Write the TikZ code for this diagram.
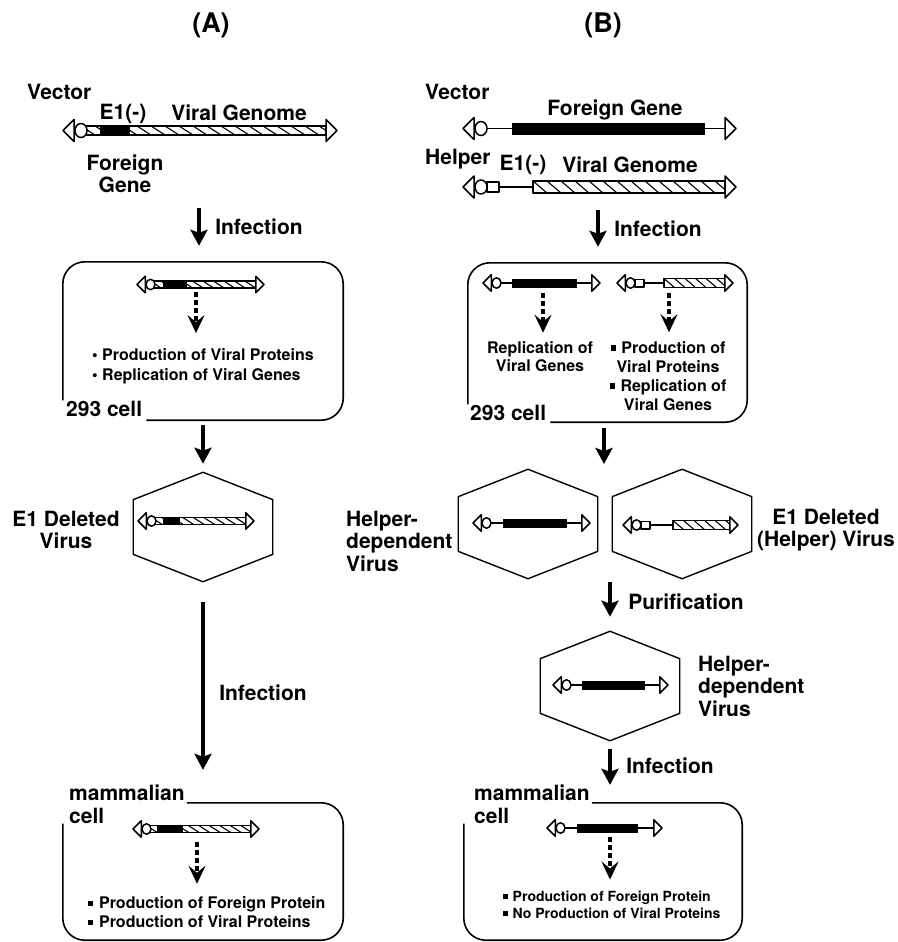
\documentclass[tikz,border=0pt]{standalone}
\usepackage{fontspec}
\setmainfont{TeX Gyre Heros}
\usetikzlibrary{positioning, arrows.meta, shapes.geometric}

% small square bullet
\newcommand{\sqb}{\raisebox{0.3ex}{\rule{0.33em}{0.33em}}\hspace{0.35em}}

% construct glyphs
\newcommand{\tipL}[3]{\draw[dna, fill=white] ({#1},{#2}) -- ++({#3},{-#3}) -- ++(0,{2*#3}) -- cycle;}
\newcommand{\tipR}[3]{\draw[dna, fill=white] ({#1},{#2}) -- ++({-#3},{-#3}) -- ++(0,{2*#3}) -- cycle;}
\newcommand{\ori}[3]{\draw[dna, fill=white] ({#1},{#2}) ellipse [x radius={#3*6pt}, y radius={#3*7pt}];}
\newcommand{\blackbar}[4]{\fill[black] ({#1},{#3-#4}) rectangle ({#2},{#3+#4});}
\newcommand{\hatchbar}[5]{%
  \begin{scope}
    \clip ({#1},{#3-#4}) rectangle ({#2},{#3+#4});
    \foreach \k in {0,...,30}
      \draw[hatch] ({#1+(\k-1)*#5},{#3-#4}) -- ({#1+\k*#5},{#3+#4});
  \end{scope}
  \draw[dna] ({#1},{#3-#4}) rectangle ({#2},{#3+#4});}

% first generation vector: tip, y, black start, black end, right tip, size
\newcommand{\firstgen}[6]{%
  \hatchbar{#1+18*#6}{#5-11*#6}{#2}{4.5*#6}{14*#6}
  \blackbar{#3}{#4}{#2}{4.5*#6}
  \ori{#1+18*#6}{#2}{#6}
  \tipL{#1}{#2}{11*#6}
  \tipR{#5}{#2}{11*#6}}

% helper-dependent vector: tip, y, black start, black end, right tip, size
\newcommand{\hdvec}[6]{%
  \draw[dna] ({#1+18*#6},{#2}) -- ({#5-11*#6},{#2});
  \blackbar{#3}{#4}{#2}{6*#6}
  \ori{#1+18*#6}{#2}{#6}
  \tipL{#1}{#2}{11*#6}
  \tipR{#5}{#2}{11*#6}}

% helper virus: tip, y, hatch start, right tip, size
\newcommand{\helpvec}[5]{%
  \draw[dna] ({#1+18*#5},{#2}) -- ({#3},{#2});
  \draw[dna, fill=white] ({#1+24*#5},{#2-5*#5}) rectangle ({#1+36*#5},{#2+5*#5});
  \hatchbar{#3}{#4-11*#5}{#2}{6*#5}{14*#5}
  \ori{#1+18*#5}{#2}{#5}
  \tipL{#1}{#2}{11*#5}
  \tipR{#4}{#2}{11*#5}}

\begin{document}
\begin{tikzpicture}[
        x=1pt, y=-1pt,
        font=\fontsize{21}{22.5}\selectfont\bfseries,
        every node/.style={inner sep=0pt},
        title/.style={font=\fontsize{27}{30}\selectfont\bfseries},
        small/.style={font=\fontsize{16}{#1}\selectfont\bfseries},
        small/.default=19,
        tiny/.style={font=\fontsize{14}{17}\selectfont\bfseries},
        cell/.style={minimum width=#1, minimum height=158pt},
        cellline/.style={line width=1.6pt, rounded corners=22pt},
        virus/.style={draw, line width=1.4pt, regular polygon, regular polygon sides=6,
            shape border rotate=30, minimum size=161pt, yscale=0.68, transform shape},
        flow/.style={line width=4.5pt, -{Stealth[length=16pt, width=17pt, inset=3pt]}},
        dflow/.style={line width=4.5pt, dash pattern=on 5pt off 3pt,
            -{Stealth[length=18pt, width=17pt, inset=7pt]}},
        dna/.style={line width=1.5pt, line join=round},
        hatch/.style={line width=1.1pt},
    ]
    \useasboundingbox (0,0) rectangle (897,942);

    % Titles
    \node[title] (tA) at (211,25) {(A)};
    \node[title] (tB) at (603,25) {(B)};

    %%% (A) first generation vector
    \node[anchor=west] (vecA) at (27,91.5) {Vector};
    \node (e1A) at (123,114) {E1(-)};
    \node (genomeA) at (239,113) {Viral Genome};
    \firstgen{63}{130.5}{100}{130}{337}{1}
    \node[align=center] (foreignA) at (125,174) {Foreign\\Gene};

    % 293 cell
    \node[cell=280pt] (cellA) at (203,341) {};
    \node[anchor=base west] (lab293A) at (66,416) {293 cell};
    \draw[cellline] (cellA.west |- lab293A.north) -- (cellA.north west) -- (cellA.north east)
        -- (cellA.south east) -- ([xshift=4pt]lab293A.east |- cellA.south);
    \firstgen{137}{284.5}{163}{187}{264}{0.75}
    \node[small=20, align=left, anchor=west] (bulA) at (92,366)
        {\textbullet\ Production of Viral Proteins\\\textbullet\ Replication of Viral Genes};
    \coordinate (gA) at (196,292);
    \draw[dflow, shorten >=15pt] (gA) -- (gA |- bulA.north);

    % E1 deleted virus
    \node[virus] (hexA) at (203,527) {};
    \firstgen{138}{521}{163}{180}{254}{0.75}
    \node[align=center] (delA) at (66,530) {E1 Deleted\\Virus};

    % mammalian cell
    \node[cell=280pt, minimum height=137pt] (cellA2) at (203,871.5) {};
    \node[align=left, anchor=north west] (mamA) at (69,785) {mammalian\\cell};
    \draw[cellline] ([xshift=2pt]mamA.east |- cellA2.north) -- (cellA2.north east)
        -- (cellA2.south east) -- (cellA2.south west) -- (cellA2.west |- mamA.south);
    \firstgen{133}{829}{157}{183}{259}{0.75}
    \node[small, align=left, anchor=west] (bulA2) at (88,912.5)
        {\sqb Production of Foreign Protein\\\sqb Production of Viral Proteins};
    \coordinate (gA2) at (197,842);
    \draw[dflow, shorten >=13pt] (gA2) -- (gA2 |- bulA2.north);

    % Arrows (A)
    \coordinate (inA) at (199,208);
    \draw[flow, shorten >=16pt] (inA) -- (inA |- cellA.north) node[pos=0.35, right=14pt] {Infection};
    \draw[flow, shorten <=5pt, shorten >=8pt] (cellA.south) -- (hexA.north);
    \draw[flow, shorten <=20pt, shorten >=33pt] (hexA.south) -- (cellA2.north)
        node[midway, right=14pt] {Infection};

    %%% (B) helper-dependent vector
    \node[anchor=west] (vecB) at (425,91.5) {Vector};
    \node (foreignB) at (615,110) {Foreign Gene};
    \hdvec{463}{128.5}{512}{705}{736}{1}
    \node[anchor=base west] (helpB) at (425,164) {Helper};
    \node (e1B) at (523,165) {E1(-)};
    \node (genomeB) at (630,165) {Viral Genome};
    \helpvec{463}{187}{533}{736}{1}

    % 293 cell
    \node[cell=279pt, minimum height=159pt] (cellB) at (607.5,342.5) {};
    \node[anchor=base west] (lab293B) at (470,420) {293 cell};
    \draw[cellline] (cellB.west |- lab293B.north) -- (cellB.north west) -- (cellB.north east)
        -- (cellB.south east) -- ([xshift=4pt]lab293B.east |- cellB.south);
    \hdvec{483}{283}{512}{577}{600}{0.75}
    \helpvec{617}{283}{664}{733}{0.75}
    \node[small=18, align=center] (repB) at (540,357) {Replication of\\Viral Genes};
    \node[small, align=center] (bulB) at (668,376)
        {\sqb Production of\\Viral Proteins\\\sqb Replication of\\Viral Genes};
    \coordinate (gB1) at (543,293);
    \coordinate (gB2) at (669,293);
    \draw[dflow, shorten >=9pt] (gB1) -- (gB1 |- repB.north);
    \draw[dflow, shorten >=9pt] (gB2) -- (gB2 |- bulB.north);

    % viruses
    \node[virus] (hexHD) at (528,524) {};
    \hdvec{473}{523}{503}{567}{590}{0.75}
    \node[virus] (hexHelp) at (682,524) {};
    \helpvec{623}{525}{673}{738}{0.75}
    \node[align=left, anchor=west] (hdB) at (346,541) {Helper-\\dependent\\Virus};
    \node[align=center] (delB) at (826,530) {E1 Deleted\\(Helper) Virus};

    % purified virus
    \node[virus] (hexPur) at (610,686) {};
    \hdvec{553}{685}{582}{645}{668}{0.75}
    \node[align=left, anchor=west] (hdB2) at (698,686) {Helper-\\dependent\\Virus};

    % mammalian cell
    \node[cell=278pt, minimum height=137pt] (cellB2) at (603,871.5) {};
    \node[align=left, anchor=north west] (mamB) at (474,785) {mammalian\\cell};
    \draw[cellline] ([xshift=2pt]mamB.east |- cellB2.north) -- (cellB2.north east)
        -- (cellB2.south east) -- (cellB2.south west) -- (cellB2.west |- mamB.south);
    \hdvec{547}{828}{577}{638}{662}{0.75}
    \node[tiny, align=left, anchor=west] (bulB2) at (503,904.5)
        {\sqb Production of Foreign Protein\\\sqb No Production of Viral Proteins};
    \coordinate (gB3) at (610,837);
    \draw[dflow, shorten >=11pt] (gB3) -- (gB3 |- bulB2.north);

    % Arrows (B)
    \coordinate (inB) at (598,210);
    \draw[flow, shorten >=16pt] (inB) -- (inB |- cellB.north) node[pos=0.35, right=14pt] {Infection};
    \coordinate (split) at (604,464);
    \draw[flow, shorten <=6pt] (split |- cellB.south) -- (split);
    \coordinate (purB) at (610,582);
    \draw[flow, shorten >=14pt] (purB) -- (purB |- hexPur.north) node[pos=0.4, right=16pt] {Purification};
    \draw[flow, shorten <=8pt, shorten >=18pt] (hexPur.south) -- (hexPur.south |- cellB2.north)
        node[pos=0.4, right=14pt] {Infection};
\end{tikzpicture}
\end{document}
